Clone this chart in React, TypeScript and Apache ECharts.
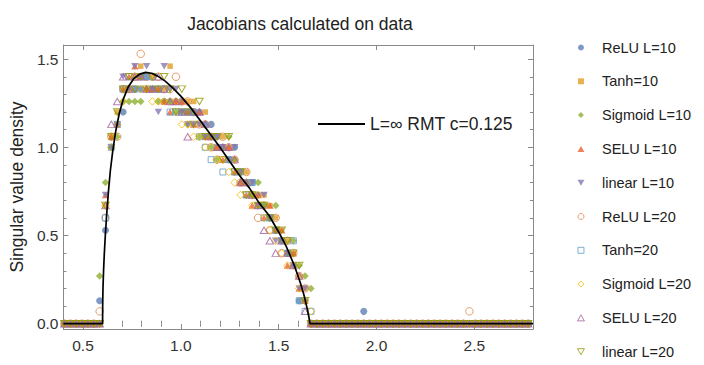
import React, { useEffect, useRef } from "react";
import * as echarts from "echarts";

// ---- axis ticks ----
const X_MAJOR = [0.5, 1.0, 1.5, 2.0, 2.5];
const X_MINOR = [0.6, 0.7, 0.8, 0.9, 1.1, 1.2, 1.3, 1.4, 1.6, 1.7, 1.8, 1.9, 2.1, 2.2, 2.3, 2.4, 2.6, 2.7];
const Y_MAJOR = [0, 0.5, 1.0, 1.5];
const Y_MINOR = [0.1, 0.2, 0.3, 0.4, 0.6, 0.7, 0.8, 0.9, 1.1, 1.2, 1.3, 1.4];

// ---- histogram bin centres (non-empty region) ----
const BIN_X = [0.585, 0.615, 0.645, 0.675, 0.705, 0.735, 0.765, 0.795, 0.825, 0.855, 0.885, 0.915, 0.945, 0.975, 1.005, 1.035, 1.065, 1.095, 1.125, 1.155, 1.185, 1.215, 1.245, 1.275, 1.305, 1.335, 1.365, 1.395, 1.425, 1.455, 1.485, 1.515, 1.545, 1.575, 1.605, 1.635, 1.665];
// bins where every series is empty
const ZERO_X = [0.405, 0.435, 0.465, 0.495, 0.525, 0.555, 1.695, 1.725, 1.755, 1.785, 1.815, 1.845, 1.875, 1.905, 1.935, 1.965, 1.995, 2.025, 2.055, 2.085, 2.115, 2.145, 2.175, 2.205, 2.235, 2.265, 2.295, 2.325, 2.355, 2.385, 2.415, 2.445, 2.475, 2.505, 2.535, 2.565, 2.595, 2.625, 2.655, 2.685, 2.715, 2.745, 2.775];

// ---- series values (density per bin of BIN_X) ----
const reluL10 = [0.13, 0.53, 1.0, 1.13, 1.2, 1.33, 1.33, 1.33, 1.4, 1.33, 1.33, 1.26, 1.26, 1.26, 1.26, 1.2, 1.2, 1.2, 1.13, 1.13, 1.06, 1.0, 0.93, 1.0, 0.86, 0.8, 0.8, 0.73, 0.67, 0.6, 0.53, 0.47, 0.4, 0.33, 0.13, 0.13, 0];
const tanhL10 = [0, 0.67, 1.06, 1.2, 1.33, 1.33, 1.4, 1.46, 1.33, 1.4, 1.33, 1.33, 1.46, 1.26, 1.2, 1.26, 1.26, 1.13, 1.2, 1.06, 1.0, 1.06, 1.0, 0.93, 0.86, 0.86, 0.73, 0.67, 0.73, 0.67, 0.6, 0.53, 0.47, 0.4, 0.27, 0.2, 0];
const sigmoidL10 = [0.27, 0.8, 1.0, 1.06, 1.26, 1.26, 1.26, 1.26, 1.33, 1.33, 1.26, 1.26, 1.26, 1.2, 1.2, 1.13, 1.2, 1.06, 1.06, 1.0, 0.93, 1.0, 1.06, 0.93, 0.8, 0.8, 0.73, 0.8, 0.67, 0.6, 0.67, 0.47, 0.4, 0.47, 0.33, 0.27, 0.2];
const seluL10 = [0, 0.73, 1.06, 1.13, 1.33, 1.4, 1.46, 1.4, 1.33, 1.33, 1.33, 1.26, 1.2, 1.26, 1.26, 1.2, 1.13, 1.2, 1.06, 1.06, 1.0, 0.93, 1.0, 0.86, 0.8, 0.73, 0.67, 0.73, 0.6, 0.67, 0.53, 0.53, 0.33, 0.4, 0.2, 0.13, 0];
const linearL10 = [0, 0.73, 1.0, 1.13, 1.4, 1.33, 1.46, 1.4, 1.46, 1.33, 1.2, 1.46, 1.33, 1.33, 1.2, 1.13, 1.13, 1.13, 1.06, 1.06, 1.06, 1.0, 0.93, 1.0, 0.86, 0.8, 0.8, 0.67, 0.73, 0.6, 0.47, 0.47, 0.4, 0.33, 0.2, 0.2, 0];
const reluL20 = [0.07, 0.6, 1.06, 1.06, 1.33, 1.33, 1.4, 1.53, 1.4, 1.4, 1.4, 1.33, 1.33, 1.4, 1.26, 1.26, 1.2, 1.13, 1.13, 1.0, 0.93, 1.06, 1.0, 0.93, 0.8, 0.86, 0.73, 0.6, 0.67, 0.53, 0.6, 0.4, 0.47, 0.4, 0.27, 0.2, 0];
const tanhL20 = [0, 0.6, 1.0, 1.13, 1.33, 1.4, 1.33, 1.4, 1.4, 1.4, 1.33, 1.33, 1.2, 1.2, 1.2, 1.2, 1.2, 1.06, 1.0, 0.93, 1.0, 0.86, 0.93, 0.86, 0.86, 0.73, 0.8, 0.67, 0.6, 0.6, 0.53, 0.47, 0.4, 0.47, 0.13, 0.07, 0.07];
const sigmoidL20 = [0, 0.67, 1.0, 1.13, 1.26, 1.33, 1.4, 1.33, 1.33, 1.26, 1.26, 1.26, 1.26, 1.26, 1.13, 1.13, 1.06, 1.06, 1.0, 1.0, 0.93, 0.93, 0.86, 0.8, 0.73, 0.8, 0.67, 0.73, 0.6, 0.53, 0.47, 0.4, 0.33, 0.33, 0.2, 0.13, 0.07];
const seluL20 = [0, 0.67, 1.13, 1.26, 1.4, 1.33, 1.4, 1.4, 1.33, 1.33, 1.4, 1.33, 1.26, 1.26, 1.2, 1.06, 1.2, 1.2, 1.13, 1.06, 1.0, 1.0, 1.0, 0.93, 0.8, 0.8, 0.73, 0.67, 0.53, 0.47, 0.4, 0.47, 0.4, 0.33, 0.27, 0.07, 0];
const linearL20 = [0, 0.67, 1.06, 1.2, 1.33, 1.4, 1.33, 1.4, 1.33, 1.4, 1.33, 1.4, 1.33, 1.2, 1.33, 1.2, 1.13, 1.26, 1.06, 1.06, 1.06, 0.93, 1.06, 0.86, 0.86, 0.73, 0.73, 0.67, 0.67, 0.6, 0.53, 0.53, 0.47, 0.4, 0.33, 0.13, 0];

// isolated non-empty bins far from the bulk
const reluL10Extra = [[1.935, 0.07]];
const reluL20Extra = [[2.475, 0.07]];

// ---- theory curve ----
const RMT_X = [0.4, 0.6, 0.6005, 0.602, 0.605, 0.609, 0.614, 0.621, 0.63, 0.64, 0.652, 0.667, 0.685, 0.705, 0.73, 0.76, 0.79, 0.82, 0.85, 0.88, 0.92, 0.96, 1.0, 1.05, 1.1, 1.15, 1.2, 1.25, 1.3, 1.35, 1.4, 1.45, 1.5, 1.54, 1.58, 1.61, 1.63, 1.645, 1.655, 1.66, 2.8];
const RMT_Y = [0, 0, 0.1, 0.2, 0.3, 0.4, 0.5, 0.62, 0.75, 0.87, 0.98, 1.09, 1.19, 1.27, 1.34, 1.39, 1.415, 1.425, 1.42, 1.405, 1.375, 1.335, 1.29, 1.225, 1.15, 1.075, 1.0, 0.92, 0.84, 0.77, 0.685, 0.615, 0.52, 0.435, 0.33, 0.235, 0.16, 0.09, 0.035, 0, 0];

const SERIES_NAMES = ["ReLU L=10", "Tanh=10", "Sigmoid L=10", "SELU L=10", "linear L=10", "ReLU L=20", "Tanh=20", "Sigmoid L=20", "SELU L=20", "linear L=20"];
const SERIES_VALUES = [reluL10, tanhL10, sigmoidL10, seluL10, linearL10, reluL20, tanhL20, sigmoidL20, seluL20, linearL20];
const SERIES_EXTRA: number[][][] = [reluL10Extra, [], [], [], [], reluL20Extra, [], [], [], []];
const LINE_NAME = "L=\u221e RMT c=0.125";

const SQUARE = "path://M0,0H10V10H0Z";
const DIAMOND = "path://M5,0L10,5L5,10L0,5Z";
const TRI_UP = "path://M5,0L10,8.66L0,8.66Z";
const TRI_DOWN = "path://M0,0L10,0L5,8.66Z";

const STYLES = [
  { color: "#5E81B5", symbol: "circle", size: 7, hollow: false },
  { color: "#E19C24", symbol: SQUARE, size: 5.5, hollow: false },
  { color: "#8FB032", symbol: DIAMOND, size: 7.5, hollow: false },
  { color: "#EB6235", symbol: TRI_UP, size: [7.5, 6.5], hollow: false },
  { color: "#8778B3", symbol: TRI_DOWN, size: [7.5, 6.5], hollow: false },
  { color: "#E0874A", symbol: "circle", size: 7.5, hollow: true },
  { color: "#5D9EC7", symbol: SQUARE, size: 6, hollow: true },
  { color: "#F5B800", symbol: DIAMOND, size: 7.5, hollow: true },
  { color: "#A5609D", symbol: TRI_UP, size: [7.5, 6.5], hollow: true },
  { color: "#929600", symbol: TRI_DOWN, size: [7.5, 6.5], hollow: true },
];

const FONT = "'Liberation Sans', Arial, Helvetica, sans-serif";
const FRAME = "#8a8a8a";

function itemStyleFor(s: { color: string; hollow: boolean }) {
  return s.hollow
    ? { color: "rgba(255,255,255,0)", borderColor: s.color, borderWidth: 1 }
    : { color: s.color, borderColor: s.color, borderWidth: 0 };
}

function buildOption() {
  const scatter = SERIES_NAMES.map((name, i) => {
    const extra = SERIES_EXTRA[i];
    const extraX = extra.map((p) => p[0]);
    const data = [
      ...BIN_X.map((x, j) => [x, SERIES_VALUES[i][j]]),
      ...ZERO_X.filter((x) => extraX.indexOf(x) < 0).map((x) => [x, 0]),
      ...extra,
    ];
    const st = STYLES[i];
    return {
      type: "scatter",
      name,
      data,
      symbol: st.symbol,
      symbolSize: st.size,
      itemStyle: itemStyleFor(st),
      emphasis: { disabled: true },
      xAxisIndex: 0,
      yAxisIndex: 0,
      z: 2 + i * 0.01,
    };
  });

  const line = {
    type: "line",
    name: LINE_NAME,
    data: RMT_X.map((x, i) => [x, RMT_Y[i]]),
    showSymbol: false,
    symbol: "none",
    color: "#000",
    lineStyle: { color: "#000", width: 1.7 },
    emphasis: { disabled: true },
    xAxisIndex: 0,
    yAxisIndex: 0,
    z: 5,
  };

  const xBase = { type: "value", min: 0.4, max: 2.8, gridIndex: 0, splitLine: { show: false } };
  const yBase = { type: "value", min: -0.03, max: 1.58, gridIndex: 0, splitLine: { show: false } };
  const tickStyle = { color: FRAME, width: 1 };

  return {
    animation: false,
    backgroundColor: "#fff",
    textStyle: { fontFamily: FONT },
    title: {
      text: "Jacobians calculated on data",
      left: 295,
      textAlign: "center",
      top: 10,
      textStyle: { fontFamily: FONT, fontSize: 17.5, fontWeight: "normal", color: "#222" },
    },
    grid: { left: 57, right: 171, top: 45, bottom: 36, containLabel: false },
    xAxis: [
      {
        ...xBase,
        position: "bottom",
        axisLine: { show: true, onZero: false, lineStyle: { color: FRAME, width: 1 } },
        axisTick: { show: true, inside: true, length: 5, customValues: X_MAJOR, lineStyle: tickStyle },
        axisLabel: {
          show: true,
          customValues: X_MAJOR,
          formatter: (v: number) => v.toFixed(1),
          fontSize: 15.5,
          color: "#333",
          margin: 8,
          fontFamily: FONT,
        },
      },
      {
        ...xBase,
        position: "bottom",
        axisLine: { show: false },
        axisTick: { show: true, inside: true, length: 3, customValues: X_MINOR, lineStyle: tickStyle },
        axisLabel: { show: false },
      },
      {
        ...xBase,
        position: "top",
        axisLine: { show: true, onZero: false, lineStyle: { color: FRAME, width: 1 } },
        axisTick: { show: true, inside: true, length: 5, customValues: X_MAJOR, lineStyle: tickStyle },
        axisLabel: { show: false },
      },
      {
        ...xBase,
        position: "top",
        axisLine: { show: false },
        axisTick: { show: true, inside: true, length: 3, customValues: X_MINOR, lineStyle: tickStyle },
        axisLabel: { show: false },
      },
    ],
    yAxis: [
      {
        ...yBase,
        position: "left",
        name: "Singular value density",
        nameLocation: "middle",
        nameRotate: 90,
        nameGap: 31,
        nameTextStyle: { fontFamily: FONT, fontSize: 17.5, color: "#222" },
        axisLine: { show: true, onZero: false, lineStyle: { color: FRAME, width: 1 } },
        axisTick: { show: true, inside: true, length: 5, customValues: Y_MAJOR, lineStyle: tickStyle },
        axisLabel: {
          show: true,
          customValues: Y_MAJOR,
          formatter: (v: number) => v.toFixed(1),
          fontSize: 15.5,
          color: "#333",
          margin: 5,
          fontFamily: FONT,
        },
      },
      {
        ...yBase,
        position: "left",
        axisLine: { show: false },
        axisTick: { show: true, inside: true, length: 3, customValues: Y_MINOR, lineStyle: tickStyle },
        axisLabel: { show: false },
      },
      {
        ...yBase,
        position: "right",
        axisLine: { show: true, onZero: false, lineStyle: { color: FRAME, width: 1 } },
        axisTick: { show: true, inside: true, length: 5, customValues: Y_MAJOR, lineStyle: tickStyle },
        axisLabel: { show: false },
      },
      {
        ...yBase,
        position: "right",
        axisLine: { show: false },
        axisTick: { show: true, inside: true, length: 3, customValues: Y_MINOR, lineStyle: tickStyle },
        axisLabel: { show: false },
      },
    ],
    legend: [
      {
        data: SERIES_NAMES.map((name, i) => ({
          name,
          icon: STYLES[i].symbol,
          itemStyle: itemStyleFor(STYLES[i]),
        })),
        orient: "vertical",
        left: 577,
        top: 40,
        padding: 0,
        itemWidth: 32,
        itemHeight: 6,
        itemGap: 18.8,
        symbolKeepAspect: true,
        selectedMode: false,
        textStyle: { fontFamily: FONT, fontSize: 14.5, color: "#222" },
      },
      {
        data: [{ name: LINE_NAME, icon: "rect", itemStyle: { color: "#000" } }],
        left: 318,
        top: 115,
        padding: 0,
        itemWidth: 47,
        itemHeight: 2,
        selectedMode: false,
        textStyle: { fontFamily: FONT, fontSize: 17.5, color: "#222" },
      },
    ],
    series: [...scatter, line],
  };
}

export default function App() {
  const ref = useRef<HTMLDivElement | null>(null);
  useEffect(() => {
    document.body.style.margin = "0";
    if (!ref.current) return;
    const chart = echarts.init(ref.current, null, { renderer: "svg" });
    chart.setOption(buildOption() as any);
    return () => {
      chart.dispose();
    };
  }, []);
  return <div ref={ref} style={{ width: 704, height: 365 }} />;
}
